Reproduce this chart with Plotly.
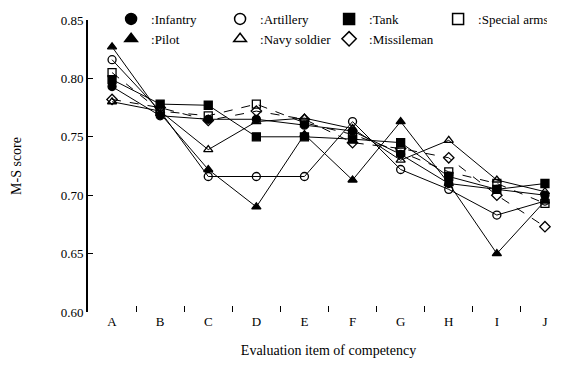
import plotly.graph_objects as go

categories = ["A", "B", "C", "D", "E", "F", "G", "H", "I", "J"]

infantry     = [0.793, 0.768, 0.765, 0.765, 0.760, 0.755, 0.735, 0.710, 0.705, 0.700]
artillery    = [0.816, 0.772, 0.716, 0.716, 0.716, 0.763, 0.722, 0.705, 0.683, 0.695]
tank         = [0.799, 0.778, 0.777, 0.750, 0.750, 0.748, 0.745, 0.716, 0.705, 0.710]
special_arms = [0.805, 0.772, 0.768, 0.778, 0.762, 0.752, 0.737, 0.720, 0.710, 0.693]
pilot        = [0.827, 0.770, 0.722, 0.690, 0.752, 0.713, 0.763, 0.710, 0.650, 0.695]
navy_soldier = [0.780, 0.772, 0.739, 0.763, 0.766, 0.757, 0.730, 0.747, 0.713, 0.703]
missileman   = [0.782, 0.775, 0.764, 0.772, 0.765, 0.745, 0.740, 0.732, 0.700, 0.673]

series = [
    ("Infantry", infantry, "circle", "solid"),
    ("Artillery", artillery, "circle-open", "solid"),
    ("Tank", tank, "square", "solid"),
    ("Special arms", special_arms, "square-open", "dash"),
    ("Pilot", pilot, "triangle-up", "solid"),
    ("Navy soldier", navy_soldier, "triangle-up-open", "solid"),
    ("Missileman", missileman, "diamond-open", "dash"),
]

y_ticks = [0.60, 0.65, 0.70, 0.75, 0.80, 0.85]

fig = go.Figure()
for name, vals, sym, dash in series:
    fig.add_trace(go.Scatter(
        x=categories, y=vals, mode="lines+markers", name=name,
        line=dict(color="black", width=1, dash=dash),
        marker=dict(symbol=sym, size=8, color="black",
                    line=dict(color="black", width=1.3)),
        showlegend=False,
    ))
# legend entries: marker only
for name, vals, sym, dash in series:
    fig.add_trace(go.Scatter(
        x=[categories[0]], y=[None], mode="markers", name=":" + name,
        marker=dict(symbol=sym, size=11, color="black",
                    line=dict(color="black", width=1.5)),
        showlegend=True,
    ))

fig.update_layout(
    width=581, height=370,
    margin=dict(l=80, r=20, t=12, b=66, autoexpand=False),
    paper_bgcolor="white", plot_bgcolor="white",
    font=dict(family="Liberation Serif", size=12, color="black"),
    legend=dict(
        orientation="h", x=0.048, y=1.055, xanchor="left", yanchor="top",
        font=dict(family="Liberation Serif", size=13, color="black"),
        entrywidth=64, entrywidthmode="pixels", itemwidth=30,
        bgcolor="rgba(0,0,0,0)", tracegroupgap=0,
    ),
    xaxis=dict(
        type="category", categoryorder="array", categoryarray=categories,
        range=[-0.5, 9.5], showline=False, showgrid=False, zeroline=False,
        automargin=False,
        ticks="inside", ticklen=6, tickwidth=1, tickcolor="black",
        tickson="boundaries",
        tickfont=dict(family="Liberation Serif", size=13),
        title=dict(text="Evaluation item of competency",
                   font=dict(family="Liberation Serif", size=14), standoff=17),
    ),
    yaxis=dict(
        range=[0.60, 0.85], tickvals=y_ticks,
        ticktext=["%.2f" % v for v in y_ticks],
        showline=True, linecolor="black", linewidth=2,
        showgrid=False, zeroline=False, automargin=False,
        ticks="inside", ticklen=5, tickwidth=1, tickcolor="black",
        tickfont=dict(family="Liberation Serif", size=13),
        title=dict(text="M-S score",
                   font=dict(family="Liberation Serif", size=14), standoff=36),
    ),
)

fig.write_html("out.html")
